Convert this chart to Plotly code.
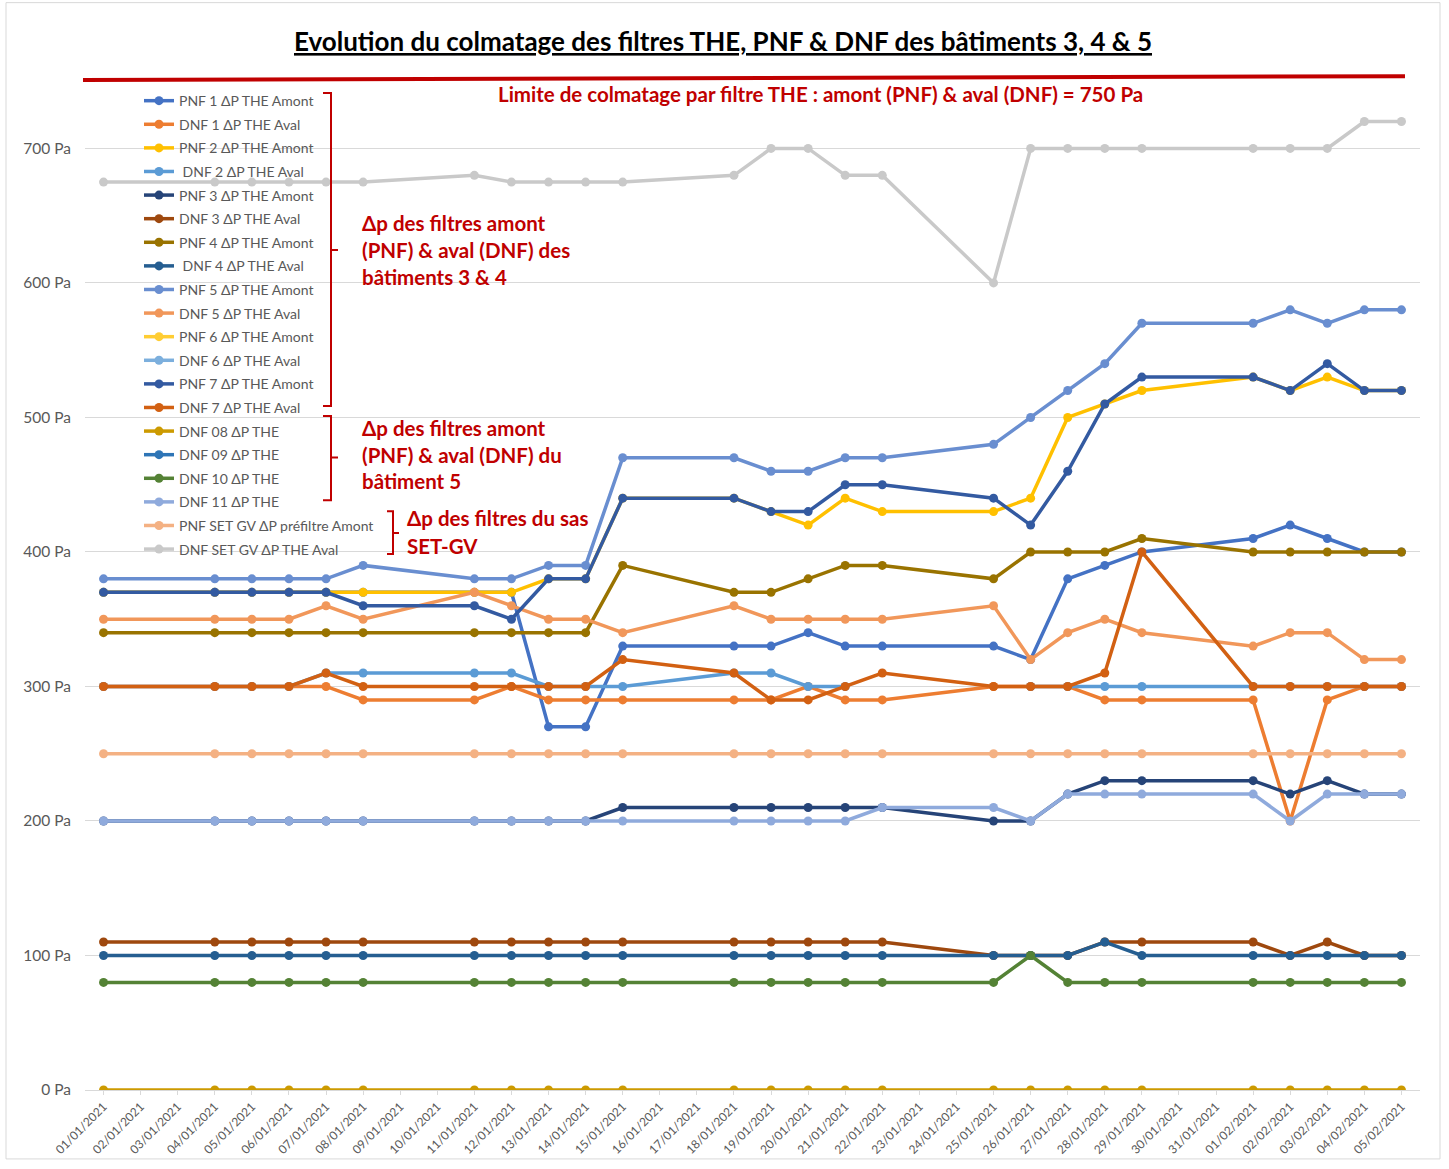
import plotly.graph_objects as go

# ---------------- DATA ----------------
dates = ["2021-01-01", "2021-01-04", "2021-01-05", "2021-01-06", "2021-01-07", "2021-01-08",
         "2021-01-11", "2021-01-12", "2021-01-13", "2021-01-14", "2021-01-15",
         "2021-01-18", "2021-01-19", "2021-01-20", "2021-01-21", "2021-01-22",
         "2021-01-25", "2021-01-26", "2021-01-27", "2021-01-28", "2021-01-29",
         "2021-02-01", "2021-02-02", "2021-02-03", "2021-02-04", "2021-02-05"]

pnf1 = [370, 370, 370, 370, 370, 370, 370, 370, 270, 270, 330, 330, 330, 340, 330, 330, 330, 320, 380, 390, 400, 410, 420, 410, 400, 400]
dnf1 = [300, 300, 300, 300, 300, 290, 290, 300, 290, 290, 290, 290, 290, 300, 290, 290, 300, 300, 300, 290, 290, 290, 200, 290, 300, 300]
pnf2 = [370, 370, 370, 370, 370, 370, 370, 370, 380, 380, 440, 440, 430, 420, 440, 430, 430, 440, 500, 510, 520, 530, 520, 530, 520, 520]
dnf2 = [300, 300, 300, 300, 310, 310, 310, 310, 300, 300, 300, 310, 310, 300, 300, None, None, 300, 300, 300, 300, 300, 300, 300, 300, 300]
pnf3 = [200, 200, 200, 200, 200, 200, 200, 200, 200, 200, 210, 210, 210, 210, 210, 210, 200, 200, 220, 230, 230, 230, 220, 230, 220, 220]
dnf3 = [110, 110, 110, 110, 110, 110, 110, 110, 110, 110, 110, 110, 110, 110, 110, 110, 100, 100, 100, 110, 110, 110, 100, 110, 100, 100]
pnf4 = [340, 340, 340, 340, 340, 340, 340, 340, 340, 340, 390, 370, 370, 380, 390, 390, 380, 400, 400, 400, 410, 400, 400, 400, 400, 400]
dnf4 = [100, 100, 100, 100, 100, 100, 100, 100, 100, 100, 100, 100, 100, 100, 100, 100, 100, 100, 100, 110, 100, 100, 100, 100, 100, 100]
pnf5 = [380, 380, 380, 380, 380, 390, 380, 380, 390, 390, 470, 470, 460, 460, 470, 470, 480, 500, 520, 540, 570, 570, 580, 570, 580, 580]
dnf5 = [350, 350, 350, 350, 360, 350, 370, 360, 350, 350, 340, 360, 350, 350, 350, 350, 360, 320, 340, 350, 340, 330, 340, 340, 320, 320]
pnf6 = [None] * len(dates)   # no visible data
dnf6 = [None] * len(dates)   # no visible data
pnf7 = [370, 370, 370, 370, 370, 360, 360, 350, 380, 380, 440, 440, 430, 430, 450, 450, 440, 420, 460, 510, 530, 530, 520, 540, 520, 520]
dnf7 = [300, 300, 300, 300, 310, 300, 300, 300, 300, 300, 320, 310, 290, 290, 300, 310, 300, 300, 300, 310, 400, 300, 300, 300, 300, 300]
dnf08 = [0, 0, 0, 0, 0, 0, 0, 0, 0, 0, 0, 0, 0, 0, 0, 0, 0, 0, 0, 0, 0, 0, 0, 0, 0, 0]
dnf09 = [None] * len(dates)  # no visible data
dnf10 = [80, 80, 80, 80, 80, 80, 80, 80, 80, 80, 80, 80, 80, 80, 80, 80, 80, 100, 80, 80, 80, 80, 80, 80, 80, 80]
dnf11 = [200, 200, 200, 200, 200, 200, 200, 200, 200, 200, 200, 200, 200, 200, 200, 210, 210, 200, 220, 220, 220, 220, 200, 220, 220, 220]
pnf_setgv = [250, 250, 250, 250, 250, 250, 250, 250, 250, 250, 250, 250, 250, 250, 250, 250, 250, 250, 250, 250, 250, 250, 250, 250, 250, 250]
dnf_setgv = [675, 675, 675, 675, 675, 675, 680, 675, 675, 675, 675, 680, 700, 700, 680, 680, 600, 700, 700, 700, 700, 700, 700, 700, 720, 720]

series_names = ["PNF 1 ΔP THE Amont", "DNF 1 ΔP THE Aval", "PNF 2 ΔP THE Amont", " DNF 2 ΔP THE Aval",
                "PNF 3 ΔP THE Amont", "DNF 3 ΔP THE Aval", "PNF 4 ΔP THE Amont", " DNF 4 ΔP THE Aval",
                "PNF 5 ΔP THE Amont", "DNF 5 ΔP THE Aval", "PNF 6 ΔP THE Amont", "DNF 6 ΔP THE Aval",
                "PNF 7 ΔP THE Amont", "DNF 7 ΔP THE Aval", "DNF 08 ΔP THE", "DNF 09 ΔP THE",
                "DNF 10 ΔP THE", "DNF 11 ΔP THE", "PNF SET GV ΔP préfiltre Amont", "DNF SET GV ΔP THE Aval"]
series_values = [pnf1, dnf1, pnf2, dnf2, pnf3, dnf3, pnf4, dnf4, pnf5, dnf5, pnf6, dnf6,
                 pnf7, dnf7, dnf08, dnf09, dnf10, dnf11, pnf_setgv, dnf_setgv]
series_colors = ["#4472C4", "#ED7D31", "#FFC000", "#5B9BD5", "#264478", "#9E480E", "#997300", "#255E91",
                 "#698ED0", "#F1975A", "#FFCD33", "#7CAFDD", "#335AA1", "#D26012", "#CC9A00", "#2E75B6",
                 "#548235", "#8FAADC", "#F4B183", "#C9C9C9"]

title_text = "Evolution du colmatage des filtres THE, PNF & DNF des bâtiments 3, 4 & 5"
limit_text = "Limite de colmatage par filtre THE : amont (PNF) & aval (DNF) = 750 Pa"
group1_lines = ["Δp des filtres amont", "(PNF) & aval (DNF) des", "bâtiments 3 & 4"]
group2_lines = ["Δp des filtres amont", "(PNF) & aval (DNF) du", "bâtiment 5"]
group3_lines = ["Δp des filtres du sas", "SET-GV"]

# ---------------- LAYOUT HELPERS (target pixel -> paper) ----------------
W, H = 1449, 1169
SY = 1.004                      # small vertical compensation
PL, PR = 85, 1420
PT, PB = round(61 * SY), round(1097 * SY)   # plot area in figure pixels
L, T, R, B = PL, PT, W - PR, H - PB
PW, PH = PR - PL, PB - PT


def px(x):
    return (x - PL) / PW


def py(y):
    return (PB - y * SY) / PH


FONT = "Lato, 'Open Sans', sans-serif"
RED = "#C00000"
GREY_TXT = "#595959"

fig = go.Figure()
for i, (name, vals, col) in enumerate(zip(series_names, series_values, series_colors)):
    fig.add_trace(go.Scatter(
        x=dates, y=vals, name=name, mode="lines+markers",
        line=dict(color=col, width=3.5),
        marker=dict(color=col, size=9),
        connectgaps=False, legendgroup="g%d" % i,
    ))

shapes = []
# limit line (750 Pa)
shapes.append(dict(type="line", xref="paper", yref="paper",
                   x0=px(83), y0=py(80), x1=px(1405), y1=py(76),
                   line=dict(color=RED, width=4)))


def brace(xv, ytop, ybot, ymid, hook=8, tip=7):
    path = (f"M{px(xv - hook)},{py(ytop)} L{px(xv)},{py(ytop)} L{px(xv)},{py(ybot)} "
            f"L{px(xv - hook)},{py(ybot)} M{px(xv)},{py(ymid)} L{px(xv + tip)},{py(ymid)}")
    return dict(type="path", xref="paper", yref="paper", path=path,
                line=dict(color=RED, width=2))


shapes.append(brace(331, 93, 408, 251))
shapes.append(brace(331, 418, 503, 460))
shapes.append(brace(393, 514, 557, 536, hook=6, tip=6))
# chart border
shapes.append(dict(type="rect", xref="paper", yref="paper",
                   x0=px(6), y0=py(1166), x1=px(1440), y1=py(2),
                   line=dict(color="#D9D9D9", width=1)))

annotations = []
annotations.append(dict(xref="paper", yref="paper", x=px(723), y=py(41),
                        text="<b><u>" + title_text + "</u></b>", showarrow=False,
                        font=dict(family=FONT, size=26, color="black"),
                        xanchor="center", yanchor="middle"))
annotations.append(dict(xref="paper", yref="paper", x=px(820), y=py(94),
                        text="<b>" + limit_text + "</b>", showarrow=False,
                        font=dict(family=FONT, size=20.5, color=RED),
                        xanchor="center", yanchor="middle"))


def text_block(lines, x0, y0, dy=27):
    for k, t in enumerate(lines):
        annotations.append(dict(xref="paper", yref="paper", x=px(x0), y=py(y0 + k * dy),
                                text="<b>" + t + "</b>", showarrow=False,
                                font=dict(family=FONT, size=20.5, color=RED),
                                xanchor="left", yanchor="middle", align="left"))


text_block(group1_lines, 360, 224)
text_block(group2_lines, 360, 430)
text_block(group3_lines, 405, 521, dy=28)

fig.update_layout(
    width=W, height=H,
    margin=dict(l=L, r=R, t=T, b=B),
    paper_bgcolor="white", plot_bgcolor="white",
    font=dict(family=FONT, color=GREY_TXT),
    showlegend=True,
    legend=dict(x=px(139), y=py(85), xanchor="left", yanchor="top",
                bgcolor="rgba(0,0,0,0)", borderwidth=0,
                font=dict(family=FONT, size=14, color=GREY_TXT),
                tracegroupgap=2.4, traceorder="grouped"),
    shapes=shapes, annotations=annotations,
    xaxis=dict(type="date", range=["2020-12-31 12:00", "2021-02-05 12:00"],
               tick0="2021-01-01", dtick=86400000, tickformat="%d/%m/%Y",
               tickangle=-45, showgrid=False, showline=True, linecolor="#D9D9D9",
               ticks="outside", ticklen=4, tickcolor="#D9D9D9",
               tickfont=dict(family=FONT, size=12, color=GREY_TXT)),
    yaxis=dict(range=[0, 765], dtick=100, ticksuffix=" Pa", showgrid=True,
               gridcolor="#D9D9D9", zeroline=False, showline=False,
               tickfont=dict(family=FONT, size=15.5, color=GREY_TXT),
               ticklabelstandoff=13),
)

# make the page exactly the size of the figure (no default body margin / line-box gap)
page_js = ("var b=document.body, h=document.documentElement;"
           "b.style.margin='0px'; b.style.padding='0px'; b.style.lineHeight='0';"
           "b.style.fontSize='0px'; b.style.overflow='hidden';"
           "b.style.height='%dpx'; h.style.overflow='hidden'; h.style.height='%dpx';" % (H, H))
fig.write_html("out.html", config={"displayModeBar": False}, post_script=page_js)
